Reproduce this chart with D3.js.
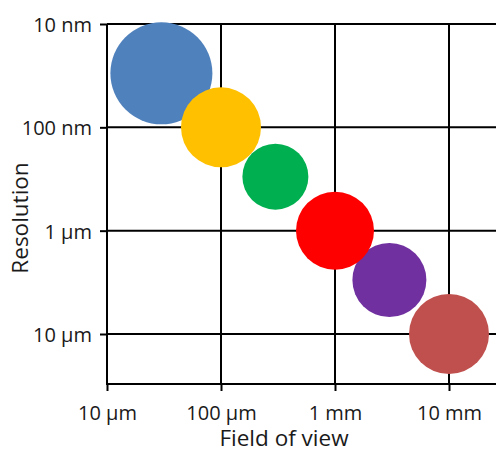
<!DOCTYPE html>
<html lang="en">
<head>
	<meta charset="utf-8">
	<title>Field of view vs resolution</title>
	<script src="https://d3js.org/d3.v7.min.js" charset="utf-8"></script>
	<style>
		body { margin: 0; background: #fff; }
		text { font-family: "Open Sans", sans-serif; fill: #1a1a1a; }
	</style>
</head>
<body>
	<script>
		// field of view in µm, resolution in nm
		var fovValues = [30, 100, 300, 1000, 3000, 10000];
		var resValues = [30, 100, 300, 1000, 3000, 10000];
		var sizeValues = [51, 40, 33, 39, 37, 40];
		var bubbleColors = ["#4f81bd", "#ffc000", "#00b050", "#ff0000", "#7030a0", "#c0504d"];
		var drawOrder = [0, 1, 2, 4, 3, 5]; // red sits on top of purple

		var xTicks = [10, 100, 1000, 10000];
		var xTickLabels = ["10 µm", "100 µm", "1 mm", "10 mm"];
		var yTicks = [10, 100, 1000, 10000];
		var yTickLabels = ["10 nm", "100 nm", "1 µm", "10 µm"];

		var w = 496;
		var h = 452;
		var plotLeft = 107, plotTop = 24, plotBottom = 384;

		var svg = d3.select("body")
			.append("svg")
			.attr("width", w)
			.attr("height", h);

		var xScale = d3.scaleLog()
			.domain([10, 10000])
			.range([plotLeft, 449]);

		var yScale = d3.scaleLog()
			.domain([10, 10000])
			.range([plotTop, 334]);

		var rScale = d3.scaleLinear()
			.domain([0, 51])
			.range([0, 51]);

		// grid lines
		svg.selectAll(".vgrid")
			.data(xTicks)
			.enter()
			.append("line")
			.attr("x1", function(d) { return xScale(d); })
			.attr("x2", function(d) { return xScale(d); })
			.attr("y1", plotTop)
			.attr("y2", plotBottom)
			.attr("stroke", "#000")
			.attr("stroke-width", 2);

		svg.selectAll(".hgrid")
			.data(yTicks)
			.enter()
			.append("line")
			.attr("x1", plotLeft)
			.attr("x2", w)
			.attr("y1", function(d) { return yScale(d); })
			.attr("y2", function(d) { return yScale(d); })
			.attr("stroke", "#000")
			.attr("stroke-width", 2);

		// bottom axis line
		svg.append("line")
			.attr("x1", plotLeft - 1)
			.attr("x2", w)
			.attr("y1", plotBottom)
			.attr("y2", plotBottom)
			.attr("stroke", "#000")
			.attr("stroke-width", 2);

		// axes (ticks + labels)
		var xAxis = d3.axisBottom(xScale)
			.tickValues(xTicks)
			.tickFormat(function(d, i) { return xTickLabels[i]; })
			.tickSize(7)
			.tickPadding(15);

		var gx = svg.append("g")
			.attr("transform", "translate(0," + plotBottom + ")")
			.call(xAxis);
		gx.select(".domain").remove();
		gx.selectAll("line").attr("stroke", "#000").attr("stroke-width", 2);
		gx.selectAll("text").attr("font-size", 20).attr("font-family", null).attr("fill", null);

		var yAxis = d3.axisLeft(yScale)
			.tickValues(yTicks)
			.tickFormat(function(d, i) { return yTickLabels[i]; })
			.tickSize(7)
			.tickPadding(8);

		var gy = svg.append("g")
			.attr("transform", "translate(" + plotLeft + ",0)")
			.call(yAxis);
		gy.select(".domain").remove();
		gy.selectAll("line").attr("stroke", "#000").attr("stroke-width", 2);
		gy.selectAll("text").attr("font-size", 20).attr("dy", "0.38em").attr("font-family", null).attr("fill", null);

		// bubbles
		svg.selectAll("circle")
			.data(drawOrder)
			.enter()
			.append("circle")
			.attr("cx", function(i) { return xScale(fovValues[i]); })
			.attr("cy", function(i) { return yScale(resValues[i]); })
			.attr("r", function(i) { return rScale(sizeValues[i]); })
			.attr("fill", function(i) { return bubbleColors[i]; });

		// axis titles
		svg.append("text")
			.attr("x", 284)
			.attr("y", 446)
			.attr("text-anchor", "middle")
			.attr("font-size", 22.5)
			.text("Field of view");

		svg.append("text")
			.attr("transform", "translate(28,218) rotate(-90)")
			.attr("text-anchor", "middle")
			.attr("font-size", 22.5)
			.text("Resolution");
	</script>
</body>
</html>
